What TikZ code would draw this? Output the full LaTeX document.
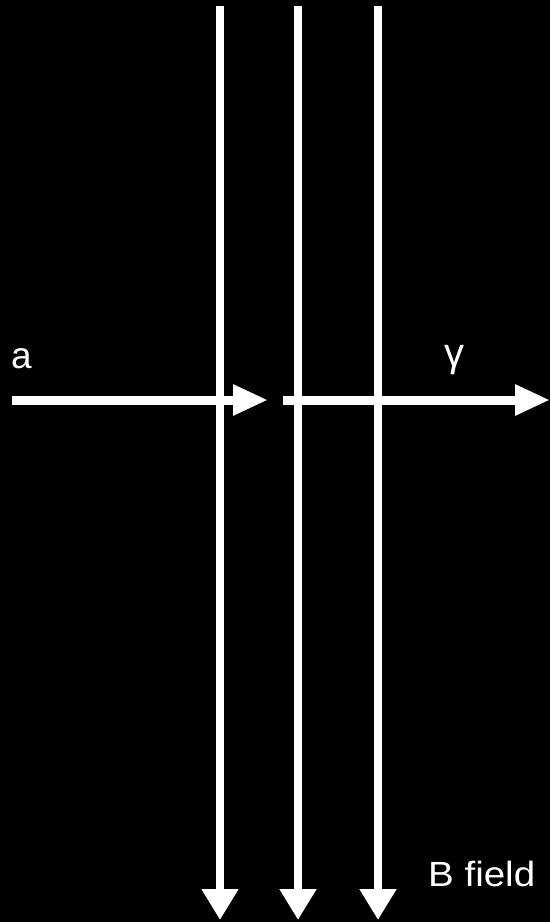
\documentclass[tikz,border=0pt]{standalone}
\usepackage{fontspec}
\setmainfont{Liberation Sans}
\usetikzlibrary{arrows.meta}
\tikzset{
  fieldline/.style={draw=white, line width=8pt,
                    -{Triangle[length=31pt,width=35pt]}},
  beam/.style={draw=white, line width=9pt,
               -{Triangle[length=35pt,width=29pt]}},
  lbl/.style={text=white, font=\fontsize{37}{40}\selectfont, inner sep=0pt},
}
\begin{document}
\begin{tikzpicture}[x=1pt, y=1pt]
% Background
\fill[black] (0,0) rectangle (550,-922);
\useasboundingbox (0,0) rectangle (550,-922);
% Magnetic field lines
\foreach \x/\nm in {220/fa, 298/fb, 378/fc}{
  \coordinate (\nm top) at (\x,-6);
  \coordinate (\nm bot) at (\x,-920);
  \draw[fieldline] (\nm top) -- (\nm bot);
}
% Incoming axion and outgoing photon
\coordinate (ain) at (12,-400);
\coordinate (aout) at (268,-400);
\coordinate (gin) at (283,-400);
\coordinate (gout) at (550,-400);
\draw[beam] (ain) -- (aout);
\draw[beam] (gin) -- (gout);
% Labels
\node[lbl, anchor=base west] (alabel) at (11,-368) {a};
\node[lbl, font=\fontsize{40}{44}\selectfont] (glabel) at (454,-360) {γ};
\node[lbl, anchor=base west, font=\fontsize{35}{38}\selectfont] (blabel) at (428,-886)
  {\scalebox{1.1}[1]{B field}};
\end{tikzpicture}
\end{document}
